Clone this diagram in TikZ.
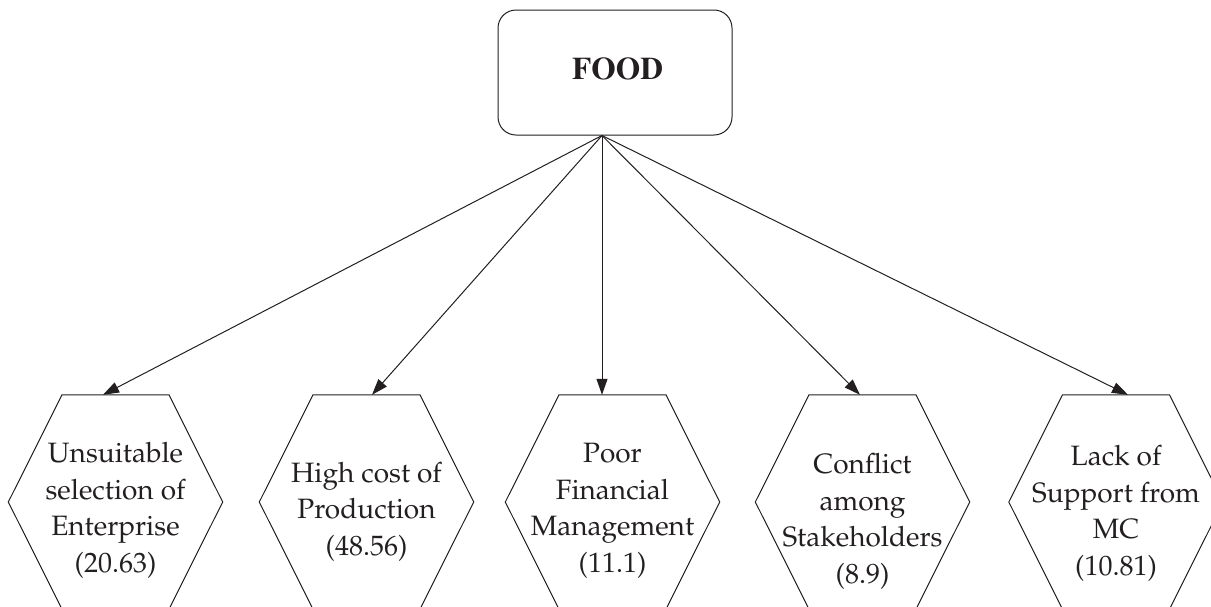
\documentclass[tikz,border=0pt]{standalone}
\usepackage[T1]{fontenc}
\usepackage{mathpazo}
\usetikzlibrary{arrows.meta,calc}
\definecolor{ink}{HTML}{231F20}
\tikzset{
  lnk/.style={draw=ink, line width=1pt},
  conn/.style={lnk, -{Triangle[length=16pt,width=11pt]}},
  hexbox/.style={minimum width=214pt, minimum height=214pt, inner sep=0pt, draw=none},
  hextext/.style={anchor=base, align=center, inner sep=0pt, text=ink,
    font=\fontsize{28}{36.5}\selectfont},
  foodbox/.style={lnk, rounded corners=18pt, minimum width=234pt, minimum height=125pt, inner sep=0pt},
  foodtext/.style={anchor=base, inner sep=0pt, text=ink,
    font=\fontfamily{ptm}\fontseries{b}\fontsize{31.5}{36}\selectfont}
}
\begin{document}
\begin{tikzpicture}[x=1pt,y=-1pt]
\useasboundingbox (0,0) rectangle (1211,606);
\begin{scope}
\clip (0,0) rectangle (1211,606);
% top box
\node[foodbox] (food) at (615,72.5) {};
\node[foodtext] (foodt) at (617.5,79) {FOOD};
% hexagons
\node[hexbox] (h1) at (115.5,502) {};
\node[hexbox] (h2) at (366.5,502) {};
\node[hexbox] (h3) at (612.5,502) {};
\node[hexbox] (h4) at (862.5,502) {};
\node[hexbox] (h5) at (1116,502) {};
\foreach \n in {h1,h2,h3,h4,h5}{
  \draw[lnk] ($(\n.north)+(-53.5,0)$) -- ($(\n.north)+(53.5,0)$) -- (\n.east)
    -- ($(\n.south)+(53.5,0)$) -- ($(\n.south)+(-53.5,0)$) -- (\n.west) -- cycle;
}
% texts (anchored at the baseline of the last line)
\node[hextext] (t1) at (115.5,572) {Unsuitable\\selection of\\Enterprise\\(20.63)};
\node[hextext] (t2) at (366.5,555) {High cost of\\Production\\(48.56)};
\node[hextext] (t3) at (612.5,572) {Poor\\Financial\\Management\\(11.1)};
\node[hextext] (t4) at (862.5,583) {Conflict\\among\\Stakeholders\\(8.9)};
\node[hextext] (t5) at (1116,575) {Lack of\\Support from\\MC\\(10.81)};
% connectors
\coordinate (o) at ($(food.south)+(-13,0)$);
\draw[conn] (o) -- ($(h1.north)+(-12.5,0)$);
\draw[conn] (o) -- ($(h2.north)+(5.5,0)$);
\draw[conn] (o) -- ($(h3.north)+(-10.5,0)$);
\draw[conn] (o) -- ($(h4.north)+(-2.5,0)$);
\draw[conn] (o) -- ($(h5.north)+(12,0)$);
\end{scope}
\end{tikzpicture}
\end{document}
